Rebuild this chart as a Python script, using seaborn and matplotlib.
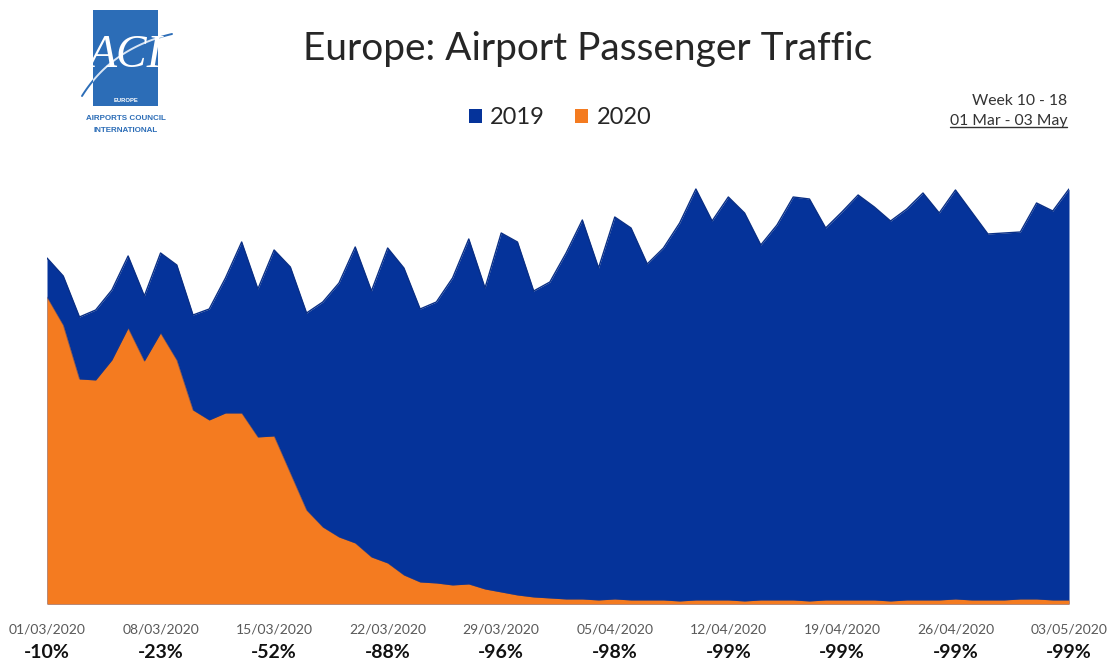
import numpy as np
import pandas as pd
import matplotlib
matplotlib.use("Agg")
import matplotlib.pyplot as plt
from matplotlib.patches import Rectangle, Patch
from matplotlib.lines import Line2D
import matplotlib.transforms as mtransforms
import seaborn as sns

# ---------------- data (index units) ----------------
days = pd.date_range("2020-03-01", "2020-05-03", freq="D")
traffic_2019 = [346, 328, 287, 294, 314, 348, 308, 351, 339, 289,
                295, 326, 362, 315, 354, 337, 291, 302, 321, 357,
                313, 356, 336, 295, 302, 326, 365, 316, 371, 362,
                313, 322, 351, 384, 336, 387, 376, 340, 356, 381,
                415, 383, 407, 391, 359, 379, 407, 405, 376, 392,
                409, 397, 383, 395, 411, 391, 414, 392, 370, 371,
                372, 401, 393, 415]
traffic_2020 = [307, 279, 225, 224, 244, 276, 243, 271, 244, 194,
                184, 191, 191, 167, 168, 131, 94, 77, 67, 61,
                47, 41, 29, 22, 21, 19, 20, 15, 12, 9,
                7, 6, 5, 5, 4, 5, 4, 4, 4, 3,
                4, 4, 4, 3, 4, 4, 4, 3, 4, 4,
                4, 4, 3, 4, 4, 4, 5, 4, 4, 4,
                5, 5, 4, 4]
tick_labels = ["01/03/2020", "08/03/2020", "15/03/2020", "22/03/2020", "29/03/2020",
               "05/04/2020", "12/04/2020", "19/04/2020", "26/04/2020", "03/05/2020"]
pct_labels = ["-10%", "-23%", "-52%", "-88%", "-96%",
              "-98%", "-99%", "-99%", "-99%", "-99%"]
series_names = ["2019", "2020"]

BLUE = "#05339A"
ORANGE = "#F47B20"
LOGO_BLUE = "#2C6DB7"

df = pd.DataFrame({"day": np.arange(len(days)),
                   "2019": traffic_2019, "2020": traffic_2020})

sns.set_theme(style="white")
plt.rcParams["font.family"] = ["Lato", "DejaVu Sans"]

W, H = 1113, 664
fig = plt.figure(figsize=(W / 100, H / 100), dpi=100)
fig.patch.set_facecolor("white")

def fx(px):
    return px / W

def fy(py):
    return 1 - py / H

x0, x1, ybase, ytop = 47, 1069, 604, 174
ax = fig.add_axes([fx(x0), fy(ybase), (x1 - x0) / W, (ybase - ytop) / H])

ax.fill_between(df["day"], 0, df["2019"], color=BLUE, linewidth=0, zorder=1)
sns.lineplot(data=df, x="day", y="2019", ax=ax, color="#0a2f85", linewidth=1.0, zorder=2)
ax.fill_between(df["day"], 0, df["2020"], color=ORANGE, linewidth=0, zorder=3)
sns.lineplot(data=df, x="day", y="2020", ax=ax, color="#1b3a8a", linewidth=0.6, zorder=4, alpha=0.5)

ax.set_xlim(0, len(days) - 1)
ax.set_ylim(0, ybase - ytop)
ax.set_xlabel("")
ax.set_ylabel("")
ax.set_yticks([])
ax.set_xticks([])
for s in ax.spines.values():
    s.set_visible(False)
ax.set_facecolor("none")

trans = mtransforms.blended_transform_factory(ax.transData, ax.transAxes)
axh = ybase - ytop
for i, (lab, pct) in enumerate(zip(tick_labels, pct_labels)):
    xi = i * 7
    ax.text(xi, -(630 - ybase) / axh, lab, transform=trans, ha="center", va="center",
            fontsize=10, color="#595959", clip_on=False)
    ax.text(xi, -(653 - ybase) / axh, pct, transform=trans, ha="center", va="center",
            fontsize=14, fontweight="bold", color="#111111", clip_on=False)

# title
fig.text(fx(588), fy(49), "Europe: Airport Passenger Traffic", ha="center", va="center",
         fontsize=28, color="#262626")

# legend
handles = [Patch(facecolor=BLUE, edgecolor="none"), Patch(facecolor=ORANGE, edgecolor="none")]
fig.legend(handles, series_names, loc="center", bbox_to_anchor=(fx(560), fy(118)),
           ncol=2, frameon=False, fontsize=17, handlelength=0.55, handleheight=0.55,
           columnspacing=1.3, handletextpad=0.35, labelcolor="#262626")

# week text
fig.text(fx(1067), fy(101), "Week 10 - 18", ha="right", va="center", fontsize=11.3, color="#333333")
t2 = fig.text(fx(1067), fy(121), "01 Mar - 03 May", ha="right", va="center", fontsize=11.3,
              color="#333333")
fig.canvas.draw()
bb = t2.get_window_extent(renderer=fig.canvas.get_renderer())
fig.add_artist(Line2D([bb.x0 / W, bb.x1 / W], [bb.y0 / H + 0.001, bb.y0 / H + 0.001],
                      color="#333333", linewidth=1.0, transform=fig.transFigure))

# logo
lax = fig.add_axes([0, fy(160), fx(250), (160 - 0) / H])
lax.set_xlim(0, 250)
lax.set_ylim(160, 0)
lax.axis("off")
lax.add_patch(Rectangle((93, 10), 65, 96, facecolor=LOGO_BLUE, edgecolor="none"))
lax.text(125.5, 56, "ACI", ha="center", va="center", fontsize=33, style="italic",
         family="Liberation Serif", color="white")
tt = np.linspace(0, 1, 60)
cx = (1 - tt) ** 2 * 82 + 2 * (1 - tt) * tt * 112 + tt ** 2 * 172
cy = (1 - tt) ** 2 * 96 + 2 * (1 - tt) * tt * 48 + tt ** 2 * 34
lax.plot(cx, cy, color=LOGO_BLUE, linewidth=1.4)
inner = lax.plot(cx, cy, color="#d9e6f5", linewidth=1.4)[0]
clip_rect = Rectangle((93, 10), 65, 96, transform=lax.transData)
inner.set_clip_path(clip_rect)
lax.text(125.5, 101, "EUROPE", ha="center", va="center", fontsize=4.2, color="white",
         family="Liberation Sans", fontweight="bold")
lax.text(125.5, 118, "AIRPORTS COUNCIL", ha="center", va="center", fontsize=5.8,
         color=LOGO_BLUE, family="Liberation Sans", fontweight="bold")
lax.text(125.5, 130, "INTERNATIONAL", ha="center", va="center", fontsize=5.8,
         color=LOGO_BLUE, family="Liberation Sans", fontweight="bold")

fig.savefig("out.png", dpi=100, facecolor="white")
